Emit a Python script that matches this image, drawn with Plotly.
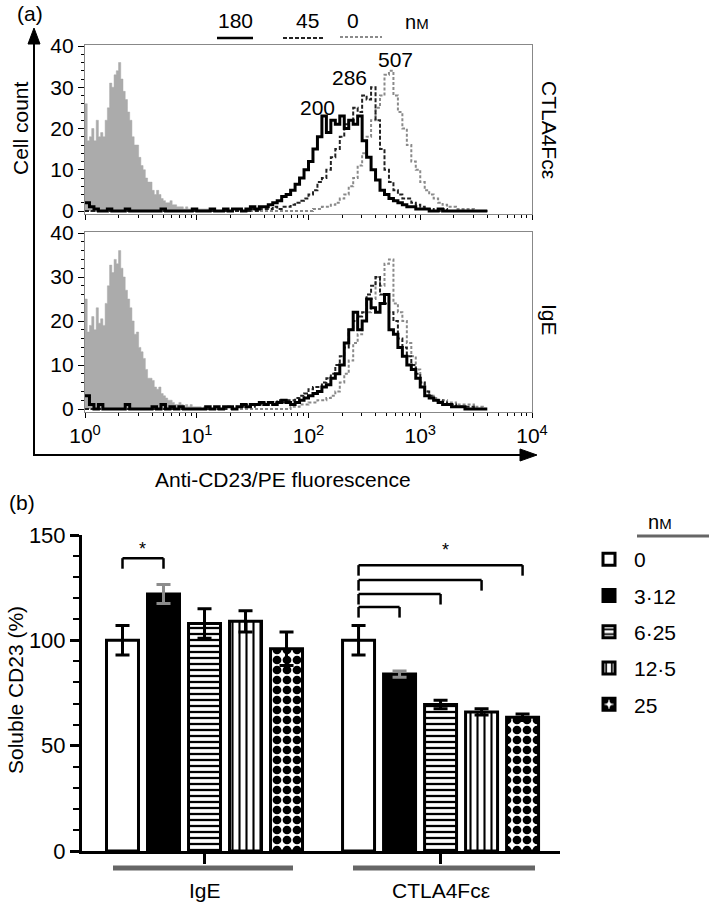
import plotly.graph_objects as go

W, H = 709, 904
FONT = "Liberation Sans, Arial, Helvetica, sans-serif"

# ---------------- (a) flow cytometry histograms ----------------
# channel positions in log10 units (curves every 0.04 decade, control every 0.02 decade)
curve_log = [round(0.04 * i, 2) for i in range(91)]
gray_log = [round(0.02 * i, 2) for i in range(61)]

# CTLA4Fce panel
ctla_180 = [2, 1, 0.5, 0, 0, 0.5, 0, 0, 0, 0.5,
            0, 0, 0, 0, 0, 0, 0, 0.5, 0, 0,
            0, 0, 0, 0, 0.5, 0, 0, 0, 0.5, 0,
            0, 0.5, 0, 0.5, 0.5, 0, 0.5, 1, 0.5, 1,
            1, 1.5, 2, 2.5, 3.5, 4, 5, 6.5, 8, 10,
            12, 15, 18, 23, 19, 22, 21, 23, 20, 22,
            21, 23, 17, 13, 10, 7.5, 5, 4, 3, 2.5,
            2, 1.5, 1, 1, 0.5, 0.5, 0.5, 0, 0, 0.5,
            0, 0, 0, 0, 0, 0, 0, 0, 0, 0,
            0]
ctla_45 = [0, 0, 0, 0, 0, 0, 0, 0, 0, 0,
           0, 0, 0, 0, 0, 0, 0, 0, 0, 0,
           0, 0, 0, 0, 0, 0, 0, 0, 0, 0,
           0, 0, 0, 0, 0, 0, 0, 0.5, 0, 0.5,
           0.5, 0.5, 1, 0.5, 1, 1, 1.5, 2, 2.5, 3,
           4, 5, 7, 8, 10, 13, 15, 18, 21, 22,
           25, 24, 28, 27, 30, 22, 15, 10, 7, 5,
           4, 3, 3, 2, 1.5, 1, 0.5, 0.5, 0, 0,
           0.5, 0, 0, 0, 0, 0, 0, 0, 0, 0,
           0]
ctla_0 = [0, 0, 0, 0, 0, 0, 0, 0, 0, 0,
          0, 0, 0, 0, 0, 0, 0, 0, 0, 0,
          0, 0, 0, 0, 0, 0, 0, 0, 0, 0,
          0, 0, 0, 0, 0, 0, 0, 0, 0, 0,
          0, 0, 0, 0, 0, 0, 0, 0, 0, 0,
          0, 0.5, 0.5, 1, 1, 1.5, 2, 3, 4, 6,
          8, 11, 14, 18, 22, 25, 28, 33, 34, 28,
          24, 20, 16, 12, 10, 7, 5, 4, 3, 2,
          1.5, 1, 1, 0.5, 0.5, 0.5, 0.5, 0, 0, 0,
          0]
ctla_ctrl = [26, 17, 18, 20, 17, 22, 18, 19, 18, 22,
             25, 31, 30, 33, 34, 36, 32, 29, 27, 24,
             22, 18, 16, 16, 13, 11, 10, 8, 7, 7,
             5, 4, 5, 4, 3, 2.5, 2, 2, 2.5, 1.5,
             1.5, 1, 1, 1, 0.5, 1, 0.5, 0.5, 0.5, 0.5,
             0.5, 0.5, 0.5, 0.5, 0.5, 0.5, 0, 0, 0, 0,
             0]

# IgE panel
ige_180 = [3, 1, 0, 1, 0, 0, 0, 0, 0, 1,
           0, 0, 0, 0, 0, 0.5, 0, 1, 0, 0.5,
           0, 0.5, 0, 0, 0, 0, 0, 0.5, 0, 0.5,
           0, 0.5, 0.5, 0, 0.5, 1, 0.5, 1, 1, 1.5,
           1, 1.5, 1, 1.5, 2, 1.5, 1, 1.5, 2, 2.5,
           3, 3.5, 4, 5, 5.5, 7, 8, 10, 15, 18,
           22, 18, 20, 25, 23, 22, 24, 26, 18, 17,
           14, 12, 10, 9, 7, 5, 3, 2.5, 2, 1.5,
           1, 1, 0.5, 0.5, 0.5, 0, 0, 0, 0, 0,
           0]
ige_45 = [0, 0, 0, 0, 0, 0, 0, 0, 0, 0,
          0, 0, 0, 0, 0, 0, 0, 0, 0, 0,
          0, 0, 0, 0, 0, 0, 0, 0, 0, 0,
          0, 0, 0.5, 0, 0.5, 0.5, 1, 0.5, 1, 1,
          1.5, 1, 1.5, 2, 1.5, 2, 2, 2.5, 3, 3.5,
          4.5, 5, 5, 6, 7, 8, 10, 12, 14, 18,
          20, 21, 22, 26, 28, 30, 26, 24, 22, 20,
          16, 14, 12, 10, 8, 6, 4, 3, 2, 2,
          1.5, 1, 1, 0.5, 0.5, 0.5, 0.5, 0, 0, 0,
          0]
ige_0 = [0, 0, 0, 0, 0, 0, 0, 0, 0, 0,
         0, 0, 0, 0, 0, 0, 0, 0, 0, 0,
         0, 0, 0, 0, 0, 0, 0, 0, 0, 0,
         0, 0, 0, 0, 0, 0, 0, 0, 0, 0,
         0, 0, 0, 0, 0, 0, 0.5, 0.5, 1, 1,
         1.5, 1.5, 2, 2, 2.5, 3, 4, 6, 8, 11,
         15, 17, 20, 22, 25, 30, 28, 33, 34, 24,
         22, 20, 15, 12, 9, 6, 4, 3, 2.5, 2,
         2, 1.5, 1.5, 1, 1, 1, 1, 0.5, 0.5, 0,
         0]
ige_ctrl = [25, 17.5, 19, 21, 18, 23, 19.5, 20.5, 19, 24,
            28, 32.7, 31, 34, 33, 36, 32, 30, 27, 25,
            23, 20, 17, 17.5, 14, 13, 11.5, 9, 7, 7,
            6.5, 5, 4.5, 5, 3.5, 3, 2.5, 2, 2, 1.5,
            1, 1, 1.5, 1, 0.5, 1, 0.5, 1, 0.5, 0.5,
            0.5, 0.5, 0, 0.5, 0, 0, 0, 0, 0, 0,
            0]

hist_x_ticks = [1, 10, 100, 1000, 10000]
hist_x_ticktext = ["10<sup>0</sup>", "10<sup>1</sup>", "10<sup>2</sup>",
                   "10<sup>3</sup>", "10<sup>4</sup>"]
hist_y_ticks = [0, 10, 20, 30, 40]
conc_hist = ["180", "45", "0"]
peak_labels = ["200", "286", "507"]

# ---------------- (b) soluble CD23 bar chart ----------------
groups = ["IgE", "CTLA4Fcε"]
concentrations = ["0", "3·12", "6·25", "12·5", "25"]
ige_mean = [100, 122, 108, 109, 96]
ige_err = [7, 4.5, 7, 5, 8]
ctla_mean = [100, 84, 69.5, 66, 63.5]
ctla_err = [7, 1.5, 2, 1.5, 1.5]
bar_y_ticks = [0, 50, 100, 150]
# significance brackets: (group index, bar i, bar j, bracket height)
sig_pairs = [(0, 0, 1, 139.0), (1, 0, 4, 135.7), (1, 0, 3, 128.6),
             (1, 0, 2, 122.0), (1, 0, 1, 115.8)]


def px(x):
    return x / W


def py(y):
    return 1 - y / H


fig = go.Figure()

xs_curve = [10 ** v for v in curve_log]
xs_gray = [10 ** v for v in gray_log]

panels = [("x", "y", ctla_ctrl, ctla_0, ctla_45, ctla_180),
          ("x2", "y2", ige_ctrl, ige_0, ige_45, ige_180)]
for xa, ya, ctrl, c0, c45, c180 in panels:
    fig.add_trace(go.Scatter(x=xs_gray, y=ctrl, mode="lines", xaxis=xa, yaxis=ya,
                             fill="tozeroy", fillcolor="#ababab",
                             line=dict(color="#ababab", width=0.5, shape="hv"),
                             showlegend=False, hoverinfo="skip"))
    fig.add_trace(go.Scatter(x=xs_curve, y=c0, mode="lines", xaxis=xa, yaxis=ya,
                             line=dict(color="#8a8a8a", width=2, dash="3px,2px", shape="hv"),
                             showlegend=False))
    fig.add_trace(go.Scatter(x=xs_curve, y=c45, mode="lines", xaxis=xa, yaxis=ya,
                             line=dict(color="#222222", width=2, dash="4px,2px", shape="hv"),
                             showlegend=False))
    fig.add_trace(go.Scatter(x=xs_curve, y=c180, mode="lines", xaxis=xa, yaxis=ya,
                             line=dict(color="black", width=3, shape="hv"),
                             showlegend=False))

# bars
bar_styles = [
    dict(color="white", pattern=None, err="black"),
    dict(color="black", pattern=None, err="#8c8c8c"),
    dict(color="white", pattern=dict(shape="-", size=6, solidity=0.38), err="black"),
    dict(color="white", pattern=dict(shape="|", size=7, solidity=0.3), err="black"),
    dict(color="white", pattern=dict(shape=".", size=10, solidity=0.6), err="black"),
]
for k, conc in enumerate(concentrations):
    st = bar_styles[k]
    marker = dict(color=st["color"], line=dict(color="black", width=3))
    if st["pattern"]:
        p = dict(st["pattern"])
        p.update(fgcolor="black", bgcolor="white", fgopacity=1, fillmode="replace")
        marker["pattern"] = p
    fig.add_trace(go.Bar(
        x=groups, y=[ige_mean[k], ctla_mean[k]], name=conc,
        xaxis="x3", yaxis="y3", marker=marker, legendgroup=conc,
        error_y=dict(type="data", array=[ige_err[k], ctla_err[k]],
                     color=st["err"], thickness=3, width=7),
    ))

bargap = 0.1314
slot = (1 - bargap) / 5

shapes = []
# top legend lines
shapes.append(dict(type="line", xref="paper", yref="paper", x0=px(217), x1=px(253),
                   y0=py(38), y1=py(38), line=dict(color="black", width=2.5)))
shapes.append(dict(type="line", xref="paper", yref="paper", x0=px(283), x1=px(325),
                   y0=py(38), y1=py(38), line=dict(color="#222", width=2, dash="4px,2px")))
shapes.append(dict(type="line", xref="paper", yref="paper", x0=px(340), x1=px(382),
                   y0=py(37), y1=py(37), line=dict(color="#8a8a8a", width=2, dash="3px,2px")))
# legend title underline
shapes.append(dict(type="line", xref="paper", yref="paper", x0=px(637), x1=px(709),
                   y0=py(536), y1=py(536), line=dict(color="#666", width=3)))
# group underlines
for x0, x1 in [(113, 293), (353, 535)]:
    shapes.append(dict(type="line", xref="paper", yref="paper", x0=px(x0), x1=px(x1),
                       y0=py(868), y1=py(868), line=dict(color="#666", width=5)))
# significance brackets
drop = 5
for g, i, j, top in sig_pairs:
    xl = g + (i - 2) * slot
    xr = g + (j - 2) * slot
    for (a0, b0, a1, b1) in [(xl, top - drop, xl, top), (xl, top, xr, top), (xr, top, xr, top - drop)]:
        shapes.append(dict(type="line", xref="x3", yref="y3", x0=a0, y0=b0, x1=a1, y1=b1,
                           line=dict(color="black", width=2.5)))
# axis arrows (outer frame of panel a)
shapes.append(dict(type="line", xref="paper", yref="paper", x0=px(34), x1=px(34),
                   y0=py(456), y1=py(40), line=dict(color="black", width=2)))
shapes.append(dict(type="path", xref="paper", yref="paper",
                   path=f"M {px(28)},{py(44)} L {px(40)},{py(44)} L {px(34)},{py(28)} Z",
                   fillcolor="black", line=dict(color="black", width=1)))
shapes.append(dict(type="line", xref="paper", yref="paper", x0=px(33), x1=px(525),
                   y0=py(455), y1=py(455), line=dict(color="black", width=2)))
shapes.append(dict(type="path", xref="paper", yref="paper",
                   path=f"M {px(520)},{py(449)} L {px(520)},{py(461)} L {px(537)},{py(455)} Z",
                   fillcolor="black", line=dict(color="black", width=1)))

ann = []


def text(t, x, y, size=21, angle=0, **kw):
    ann.append(dict(text=t, x=px(x), y=py(y), xref="paper", yref="paper",
                    showarrow=False, textangle=angle, font=dict(size=size, family=FONT, color="black"),
                    xanchor="center", yanchor="middle", **kw))


text("(a)", 30, 14)
text("(b)", 22, 502)
text(conc_hist[0], 235, 20)
text(conc_hist[1], 307, 20)
text(conc_hist[2], 353, 20)
text("n<span style='font-size:15px'>M</span>", 417, 22, size=20)
text(peak_labels[0], 317, 107)
text(peak_labels[1], 349, 77)
text(peak_labels[2], 395, 60)
text("CTLA4Fcε", 550, 130, angle=90)
text("IgE", 550, 320, angle=90)
text("Cell count", 20, 128, angle=-90)
text("Anti-CD23/PE fluorescence", 283, 479)
text("Soluble CD23 (%)", 15, 690, angle=-90)
text("*", 142, 549, size=18)
text("*", 445, 550, size=18)
text("n<span style='font-size:15px'>M</span>", 660, 522, size=20)
for gi, gname in enumerate(groups):
    ann.append(dict(text=gname, x=gi, y=py(890), xref="x3", yref="paper", showarrow=False,
                    font=dict(size=21, family=FONT, color="black"), xanchor="center", yanchor="middle"))

minor_log = [m * 10 ** d for d in range(4) for m in range(2, 10)]

hist_x_common = dict(type="log", range=[0, 4], domain=[px(85), px(532)], showgrid=False,
                     zeroline=False, showline=True, linecolor="#888", linewidth=1.2, mirror=True,
                     ticks="outside", ticklen=5, tickcolor="black", tickvals=hist_x_ticks,
                     minor=dict(tickvals=minor_log, ticks="outside", ticklen=3, tickcolor="black"),
                     tickfont=dict(size=21, family=FONT, color="black"), automargin=False)
hist_y_common = dict(range=[-0.7, 40.3], showgrid=False, zeroline=False, showline=True,
                     linecolor="#888", linewidth=1.2, mirror=True, ticks="outside", ticklen=6,
                     tickcolor="black", tickvals=hist_y_ticks,
                     minor=dict(dtick=2, ticks="outside", ticklen=3, tickcolor="black"),
                     tickfont=dict(size=21, family=FONT, color="black"), automargin=False)

fig.update_layout(
    width=W, height=H, margin=dict(l=0, r=0, t=0, b=0, pad=0, autoexpand=False),
    paper_bgcolor="white", plot_bgcolor="rgba(0,0,0,0)",
    font=dict(family=FONT, color="black"),
    xaxis=dict(hist_x_common, anchor="y", showticklabels=False),
    yaxis=dict(hist_y_common, anchor="x",
               domain=[1 - (211 + 0.7 * 4.125) / H, 1 - (46 - 0.3 * 4.125) / H]),
    xaxis2=dict(hist_x_common, anchor="y2", showticklabels=True, ticktext=hist_x_ticktext),
    yaxis2=dict(hist_y_common, anchor="x2",
                domain=[1 - (409 + 0.7 * 4.4) / H, 1 - (233 - 0.3 * 4.4) / H]),
    xaxis3=dict(type="category", categoryorder="array", categoryarray=groups,
                range=[-0.519, 1.506], domain=[px(82), px(560)], anchor="y3",
                showline=True, linecolor="black", linewidth=3, ticks="outside", ticklen=10,
                tickwidth=3, tickcolor="black", showticklabels=False, showgrid=False,
                automargin=False),
    yaxis3=dict(range=[0, 150], domain=[py(851), py(535)], anchor="x3",
                showline=True, linecolor="black", linewidth=3, ticks="outside", ticklen=9,
                tickwidth=3, tickcolor="black", tickvals=bar_y_ticks, showgrid=False,
                zeroline=False, minor=dict(dtick=10, ticks="outside", ticklen=6, tickwidth=2,
                                           tickcolor="black"),
                tickfont=dict(size=22, family=FONT, color="black"), automargin=False),
    barmode="group", bargap=bargap, bargroupgap=0.22,
    legend=dict(x=px(584), y=py(539), xanchor="left", yanchor="top",
                font=dict(size=21, family=FONT, color="black"), tracegroupgap=6,
                bgcolor="rgba(0,0,0,0)", itemwidth=40, traceorder="grouped"),
    shapes=shapes, annotations=ann,
)

fig.write_html("out.html", config={"displayModeBar": False},
               post_script="document.body.style.margin='0px';")
